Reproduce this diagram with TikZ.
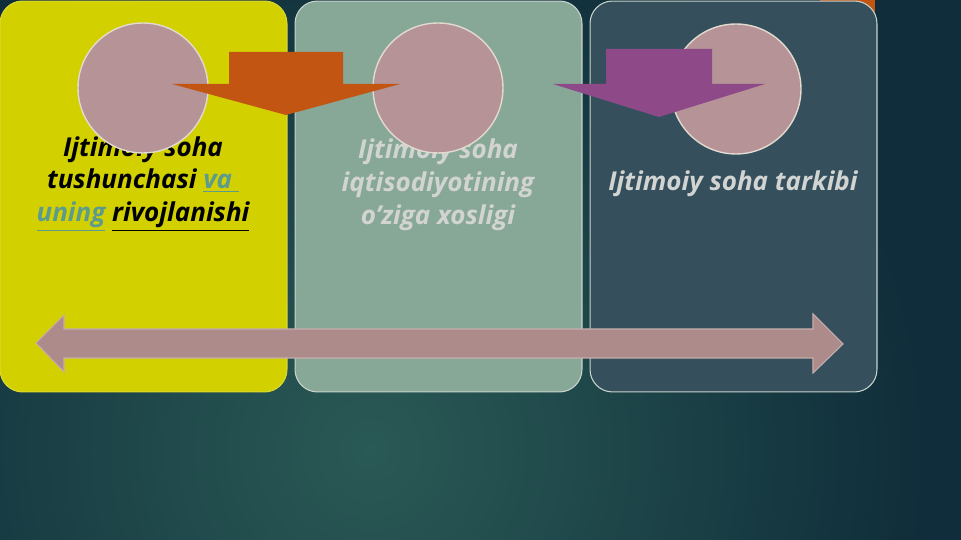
\documentclass[tikz,border=0pt]{standalone}
\usepackage{fontspec}
\setmainfont{Open Sans}
\definecolor{bgdark}{HTML}{0F2D3A}
\definecolor{bglight}{HTML}{2A5A55}
\definecolor{paneyellow}{HTML}{D3D000}
\definecolor{panesage}{HTML}{88A897}
\definecolor{paneslate}{HTML}{354F5D}
\definecolor{panerim}{HTML}{C9D3CB}
\definecolor{dotpink}{HTML}{B59396}
\definecolor{dotrim}{HTML}{E2D9CF}
\definecolor{arroworange}{HTML}{C25512}
\definecolor{arrowplum}{HTML}{8E4A88}
\definecolor{barpink}{HTML}{AD8B8B}
\definecolor{linkteal}{HTML}{5C9C8E}
\definecolor{paletext}{HTML}{D2D4D2}

\tikzset{
  pane/.style={rounded corners=0.45cm, minimum width=5.74cm, minimum height=7.82cm,
    inner sep=0pt, draw=panerim, line width=0.6pt},
  dot/.style={circle, minimum size=2.6cm, inner sep=0pt, fill=dotpink, draw=dotrim, line width=0.8pt},
  captxt/.style={font=\bfseries\itshape\fontsize{14.8}{18.7}\selectfont, align=center},
}

\begin{document}
\begin{tikzpicture}[x=0.02cm, y=-0.02cm]
  \useasboundingbox (0,0) rectangle (961,540);
  % background
  \begin{scope}
    \clip (0,0) rectangle (961,540);
    \fill[bgdark] (0,0) rectangle (961,540);
    \shade[inner color=bglight, outer color=bgdark] (370,450) circle (560);
    \fill[arroworange] (820,0) rectangle (875,30);
  \end{scope}

  % three panels
  \node[pane, fill=paneyellow, draw=paneyellow!80!white] (paneA) at (143.5,196.5) {};
  \node[pane, fill=panesage] (paneB) at (438.5,196.5) {};
  \node[pane, fill=paneslate] (paneC) at (733.5,196.5) {};

  % captions
  \node[captxt, text=black] (capA) at (143,184)
    {Ijtimoiy soha\\tushunchasi \textcolor{linkteal}{\underline{va\ }}\\
     \textcolor{linkteal}{\underline{uning}} \underline{rivojlanishi}};
  \node[captxt, text=paletext] (capB) at (438,185)
    {Ijtimoiy soha\\iqtisodiyotining\\o’ziga xosligi};
  \node[captxt, text=paletext] (capC) at (733,184) {Ijtimoiy soha tarkibi};

  % circles
  \node[dot] (dotA) at (143,88) {};
  \node[dot] (dotB) at (438,88) {};
  \node[dot] (dotC) at (736,89) {};

  % down arrows
  \fill[arroworange] (229,52) -- (343,52) -- (343,84) -- (400,84) -- (286,115)
    -- (172,84) -- (229,84) -- cycle;
  \fill[arrowplum] (606,49) -- (712,49) -- (712,84) -- (765,84) -- (659,117)
    -- (553,84) -- (606,84) -- cycle;

  % double arrow across the panels
  \draw[barpink!70!white, line width=0.6pt, fill=barpink] (36,343) -- (64,315) -- (64,329)
    -- (813,329) -- (813,314) -- (843,344) -- (813,373) -- (813,358)
    -- (64,358) -- (64,372) -- cycle;
\end{tikzpicture}
\end{document}
